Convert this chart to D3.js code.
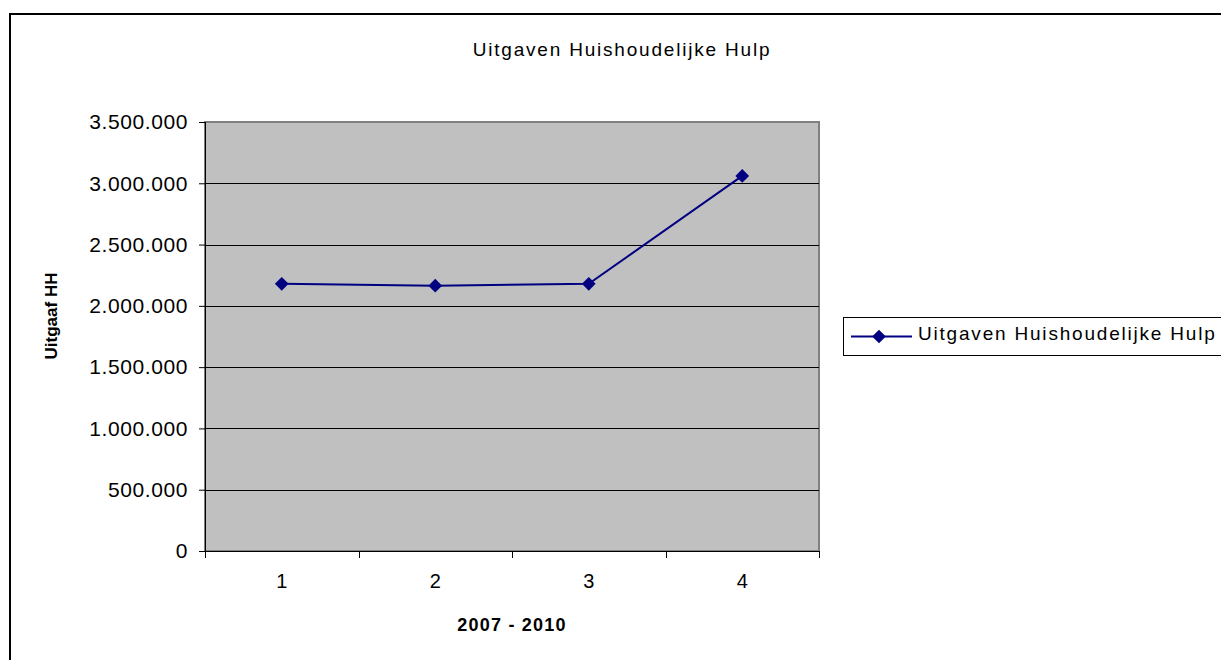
<!DOCTYPE html>
<html>
<head>
<meta charset="utf-8">
<script src="https://cdn.jsdelivr.net/npm/d3@7"></script>
<style>
  body { margin: 0; background: #fff; }
  text { font-family: "Liberation Sans", Arial, sans-serif; fill: #000; }
</style>
</head>
<body>
<div id="chart-area"></div>
<script>
const categories = ['1', '2', '3', '4'];
const values = [2180000, 2165000, 2180000, 3060000];
const yTicks = [0, 500000, 1000000, 1500000, 2000000, 2500000, 3000000, 3500000];
const seriesName = 'Uitgaven Huishoudelijke Hulp';
const chartTitle = 'Uitgaven Huishoudelijke Hulp';
const xTitle = '2007 - 2010';
const yTitle = 'Uitgaaf HH';

const drawChart = () => {
  const size = { width: 1221, height: 660 };
  const margin = { left: 205, top: 122, right: 402, bottom: 109 };
  const width = size.width - margin.left - margin.right;
  const height = size.height - margin.top - margin.bottom;

  const svg = d3.select('#chart-area').append('svg')
    .attr('width', size.width)
    .attr('height', size.height);

  // outer chart border (right/bottom run off the page)
  svg.append('rect')
    .attr('x', 10).attr('y', 14)
    .attr('width', 1240).attr('height', 680)
    .attr('fill', '#fff')
    .attr('stroke', '#000')
    .attr('stroke-width', 2);

  svg.append('text')
    .attr('x', 622).attr('y', 56)
    .attr('text-anchor', 'middle')
    .style('font-size', '19px')
    .style('letter-spacing', '1.8px')
    .text(chartTitle);

  const x = d3.scaleBand().domain(categories).range([0, width]);
  const y = d3.scaleLinear().domain([0, 3500000]).range([height, 0]);

  const g = svg.append('g')
    .attr('transform', `translate(${margin.left},${margin.top})`);

  g.append('rect')
    .attr('width', width).attr('height', height)
    .attr('fill', '#c0c0c0')
    .attr('stroke', '#808080')
    .attr('stroke-width', 2);

  g.selectAll('.grid')
    .data(yTicks.slice(1, -1))
    .enter().append('line')
    .attr('class', 'grid')
    .attr('x1', 0).attr('x2', width)
    .attr('y1', d => Math.round(y(d)) + 0.5)
    .attr('y2', d => Math.round(y(d)) + 0.5)
    .attr('stroke', '#000');

  const fmt = d => d3.format(',')(d).replace(/,/g, '.');

  const yAxis = d3.axisLeft(y)
    .tickValues(yTicks)
    .tickFormat(fmt)
    .tickSize(6)
    .tickPadding(11);

  const yg = g.append('g').attr('class', 'y axis').call(yAxis);
  yg.select('.domain').attr('stroke', '#000').attr('d', `M0.5,0V${height}`);
  yg.selectAll('line').attr('stroke', '#000');
  yg.selectAll('text')
    .style('font-size', '21px')
    .style('letter-spacing', '0.6px');

  const xAxis = d3.axisBottom(x).tickSize(0).tickPadding(23);
  const xg = g.append('g')
    .attr('class', 'x axis')
    .attr('transform', `translate(0,${height})`)
    .call(xAxis);
  xg.select('.domain').attr('stroke', '#000').attr('d', `M0,0.5H${width}`);
  xg.selectAll('text').style('font-size', '20px');

  // category boundary ticks
  g.selectAll('.xtick')
    .data(categories.concat(['end']))
    .enter().append('line')
    .attr('class', 'xtick')
    .attr('x1', (d, i) => Math.round(i * x.step()) + 0.5)
    .attr('x2', (d, i) => Math.round(i * x.step()) + 0.5)
    .attr('y1', height).attr('y2', height + 7)
    .attr('stroke', '#000');

  g.append('text')
    .attr('x', width / 2).attr('y', height + 80)
    .attr('text-anchor', 'middle')
    .style('font-size', '18px').style('font-weight', 'bold')
    .style('letter-spacing', '1.2px')
    .text(xTitle);

  g.append('text')
    .attr('transform', `translate(${57 - margin.left},${316 - margin.top}) rotate(-90)`)
    .attr('text-anchor', 'middle')
    .style('font-size', '17px').style('font-weight', 'bold')
    .text(yTitle);

  const pts = categories.map((c, i) => [x(c) + x.bandwidth() / 2, y(values[i])]);

  g.append('path')
    .attr('d', d3.line()(pts))
    .attr('fill', 'none')
    .attr('stroke', '#000080')
    .attr('stroke-width', 2);

  const diamond = d3.symbol().type(d3.symbolDiamond2).size(120);
  g.selectAll('.pt')
    .data(pts)
    .enter().append('path')
    .attr('class', 'pt')
    .attr('transform', p => `translate(${p[0]},${p[1]})`)
    .attr('d', diamond)
    .attr('fill', '#000080');

  // legend
  const lg = svg.append('g').attr('transform', 'translate(843,317)');
  lg.append('rect')
    .attr('x', 0.5).attr('y', 0.5)
    .attr('width', 420).attr('height', 38)
    .attr('fill', '#fff')
    .attr('stroke', '#000');
  lg.append('line')
    .attr('x1', 8).attr('x2', 69)
    .attr('y1', 19.5).attr('y2', 19.5)
    .attr('stroke', '#000080').attr('stroke-width', 2);
  lg.append('path')
    .attr('transform', 'translate(36,19.5)')
    .attr('d', diamond)
    .attr('fill', '#000080');
  lg.append('text')
    .attr('x', 75).attr('y', 23)
    .style('font-size', '19px')
    .style('letter-spacing', '1.8px')
    .text(seriesName);
};

window.onload = drawChart;
</script>
</body>
</html>
